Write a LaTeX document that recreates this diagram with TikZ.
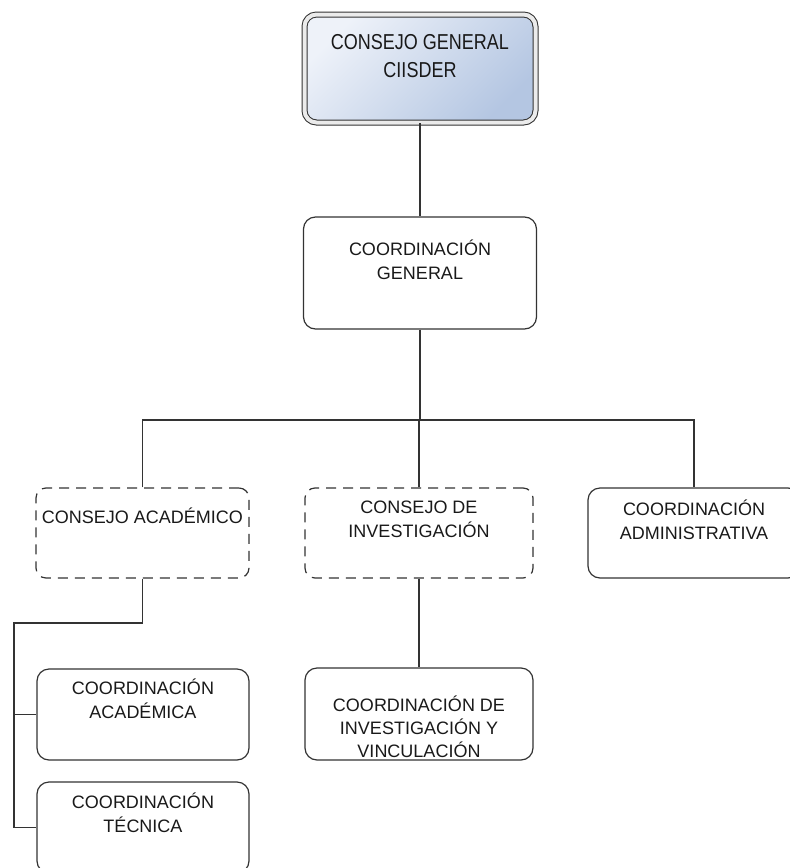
\documentclass[tikz,border=0pt]{standalone}
\usepackage{fontspec}
\setmainfont{Liberation Sans}
\usetikzlibrary{positioning}
\definecolor{edge}{HTML}{333333}
\definecolor{cglight}{HTML}{EEF2F9}
\definecolor{cgdark}{HTML}{B4C6E2}
\newcommand{\stretchy}[1]{\scalebox{1}[1.2]{#1}}
\tikzset{
  box/.style = {draw=edge, line width=1.2pt, rounded corners=12pt,
    minimum width=212pt, minimum height=90pt, inner sep=0},
  dbox/.style = {box, dash pattern=on 10pt off 7pt, rounded corners=10pt},
  txt/.style = {align=center, inner sep=0, text=black!90,
    font=\fontsize{18}{24}\selectfont},
  link/.style = {draw=edge, line width=1.2pt}
}

\begin{document}
\begin{tikzpicture}[x=1pt, y=-1pt]
  \useasboundingbox (0,0) rectangle (790,868);

  % consejo general
  \node [box, minimum width=231pt, minimum height=108pt, line width=1pt,
    double=white!92!black, double distance=4pt,
    top color=cglight, middle color=cglight!55!cgdark, bottom color=cgdark,
    shading angle=45] (cons) at (420,68.5) {};
  \node [txt, font=\fontsize{18}{28}\selectfont] (cons-t) at (420,56)
    {\stretchy{CONSEJO GENERAL}\\\stretchy{CIISDER}};

  \node [box, minimum width=233pt, minimum height=112pt] (cg) at (420,273) {};
  \node [txt] (cg-t) at (420,259.5) {COORDINACIÓN\\GENERAL};

  \coordinate (bus) at (420,420);

  % segundo nivel
  \node [dbox, minimum width=213pt] (ca) at (142.5,533) {};
  \node [txt] (ca-t) at (142.5,516) {CONSEJO ACADÉMICO};
  \node [dbox, minimum width=228pt] (ci) at (419,533) {};
  \node [txt] (ci-t) at (419,519) {CONSEJO DE\\INVESTIGACIÓN};
  \node [box] (cad) at (694,533) {};
  \node [txt] (cad-t) at (694,519.5) {COORDINACIÓN\\ADMINISTRATIVA};

  % tercer nivel
  \coordinate (spine) at (14,623);
  \node [box, minimum height=91pt] (cac) at (143,714.5) {};
  \node [txt] (cac-t) at (143,699) {COORDINACIÓN\\ACADÉMICA};
  \node [box, minimum height=91pt] (ct) at (143,827.5) {};
  \node [txt] (ct-t) at (143,812.5) {COORDINACIÓN\\TÉCNICA};
  \node [box, minimum width=228pt, minimum height=92pt] (civ) at (419,714) {};
  \node [txt, font=\fontsize{18}{23}\selectfont] (civ-t) at (419,726.5)
    {COORDINACIÓN DE\\INVESTIGACIÓN Y\\VINCULACIÓN};

  \draw [link] (cons.south) -- (cons.south |- cg.north);
  \draw [link] (cg.south) -- (bus);
  \draw [link] (ca.north) |- (bus) -| (cad.north);
  \draw [link] (ci.north) -- (ci.north |- bus);
  \draw [link] (ci.south) -- (civ.north);
  \draw [link] (ca.south) |- (spine) -- (spine |- ct.west) -- (ct.west);
  \draw [link] (spine |- cac.west) -- (cac.west);
\end{tikzpicture}
\end{document}
